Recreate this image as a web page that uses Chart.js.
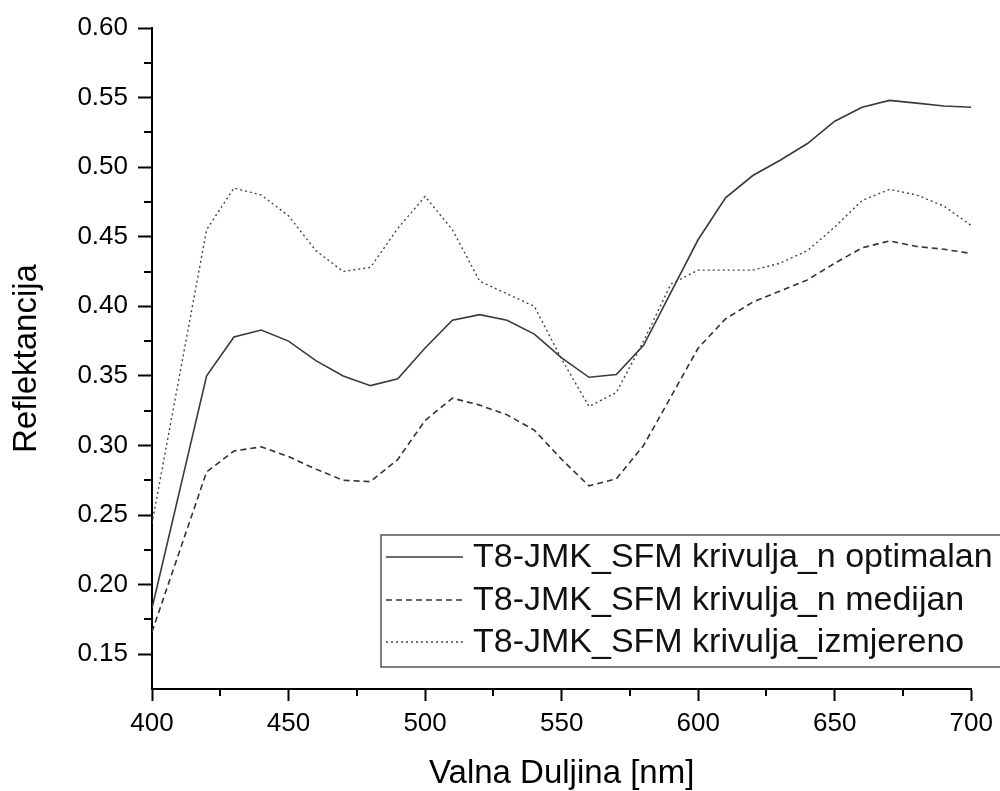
<!DOCTYPE html>
<html>
<head>
<meta charset="utf-8">
<title>Reflektancija</title>
<script src="https://cdn.jsdelivr.net/npm/chart.js@4/dist/chart.umd.min.js"></script>
<style>
    body { margin: 0; background: #fff; }
    #wrap { width: 1000px; height: 791px; }
</style>
</head>
<body>
<div id="wrap"><canvas id="reflChart"></canvas></div>
<script>
// valne duljine (nm)
const wavelengths = [400, 420, 430, 440, 450, 460, 470, 480, 490, 500, 510, 520, 530, 540, 550,
                     560, 570, 580, 590, 600, 610, 620, 630, 640, 650, 660, 670, 680, 690, 700];

const optimalan = [0.183, 0.350, 0.378, 0.383, 0.375, 0.361, 0.350, 0.343, 0.348, 0.370, 0.390, 0.394, 0.390, 0.380, 0.363,
                   0.349, 0.351, 0.372, 0.410, 0.448, 0.478, 0.494, 0.505, 0.517, 0.533, 0.543, 0.548, 0.546, 0.544, 0.543];

const medijan = [0.166, 0.281, 0.296, 0.299, 0.292, 0.283, 0.275, 0.274, 0.290, 0.318, 0.334, 0.329, 0.322, 0.311, 0.290,
                 0.271, 0.276, 0.300, 0.335, 0.370, 0.391, 0.403, 0.411, 0.419, 0.431, 0.442, 0.447, 0.443, 0.441, 0.438];

const izmjereno = [0.244, 0.455, 0.485, 0.480, 0.465, 0.440, 0.425, 0.428, 0.456, 0.479, 0.455, 0.418, 0.409, 0.400, 0.362,
                   0.328, 0.338, 0.375, 0.416, 0.426, 0.426, 0.426, 0.431, 0.440, 0.457, 0.476, 0.484, 0.480, 0.472, 0.458];

const seriesLabels = [
    'T8-JMK_SFM krivulja_n optimalan',
    'T8-JMK_SFM krivulja_n medijan',
    'T8-JMK_SFM krivulja_izmjereno'
];

const xTicks = [400, 450, 500, 550, 600, 650, 700];
const xMinorTicks = [425, 475, 525, 575, 625, 675];
const yTicks = [0.15, 0.20, 0.25, 0.30, 0.35, 0.40, 0.45, 0.50, 0.55, 0.60];
const yMinorTicks = [0.175, 0.225, 0.275, 0.325, 0.375, 0.425, 0.475, 0.525, 0.575];

function toPoints(values) {
    return wavelengths.map((w, i) => ({ x: w, y: values[i] }));
}

// minor ticks on both axes
const minorTicksPlugin = {
    id: 'minorTicks',
    afterDraw(chart) {
        const ctx = chart.ctx;
        const xs = chart.scales.x;
        const ys = chart.scales.y;
        const area = chart.chartArea;
        ctx.save();
        ctx.strokeStyle = '#000';
        ctx.lineWidth = 2;
        ctx.beginPath();
        xMinorTicks.forEach(v => {
            const px = Math.round(xs.getPixelForValue(v));
            ctx.moveTo(px, area.bottom);
            ctx.lineTo(px, area.bottom + 7);
        });
        yMinorTicks.forEach(v => {
            const py = Math.round(ys.getPixelForValue(v));
            ctx.moveTo(area.left, py);
            ctx.lineTo(area.left - 8, py);
        });
        ctx.stroke();
        ctx.restore();
    }
};

// legend box inside the plot (bottom right)
const boxLegendPlugin = {
    id: 'boxLegend',
    afterDraw(chart) {
        const ctx = chart.ctx;
        const left = 381, top = 535, bottom = 667;
        const rows = [557, 600, 642];
        ctx.save();
        ctx.fillStyle = '#fff';
        ctx.fillRect(left, top, 1010 - left, bottom - top);
        ctx.strokeStyle = '#555';
        ctx.lineWidth = 1.5;
        ctx.strokeRect(left, top, 1010 - left, bottom - top);

        chart.data.datasets.forEach((ds, i) => {
            ctx.strokeStyle = ds.borderColor;
            ctx.lineWidth = ds.borderWidth;
            ctx.setLineDash(ds.borderDash || []);
            ctx.beginPath();
            ctx.moveTo(386, rows[i]);
            ctx.lineTo(463, rows[i]);
            ctx.stroke();
            ctx.setLineDash([]);

            ctx.fillStyle = '#111';
            ctx.font = '34px "Liberation Sans", Arial, sans-serif';
            ctx.textBaseline = 'middle';
            ctx.fillText(ds.label, 473, rows[i] + 1);
        });
        ctx.restore();
    }
};

document.addEventListener('DOMContentLoaded', function() {
    const ctx = document.getElementById('reflChart').getContext('2d');
    new Chart(ctx, {
        type: 'line',
        data: {
            datasets: [{
                label: seriesLabels[0],
                data: toPoints(optimalan),
                borderColor: '#3a3a3a',
                borderWidth: 1.6,
                pointRadius: 0,
                tension: 0
            }, {
                label: seriesLabels[1],
                data: toPoints(medijan),
                borderColor: '#333',
                borderWidth: 1.6,
                borderDash: [6, 4],
                pointRadius: 0,
                tension: 0
            }, {
                label: seriesLabels[2],
                data: toPoints(izmjereno),
                borderColor: '#444',
                borderWidth: 1.4,
                borderDash: [2, 3],
                pointRadius: 0,
                tension: 0
            }]
        },
        options: {
            responsive: true,
            maintainAspectRatio: false,
            animation: false,
            layout: { padding: { top: 28, right: 28, left: 0, bottom: 0 } },
            plugins: {
                legend: { display: false },
                tooltip: { enabled: false }
            },
            scales: {
                x: {
                    type: 'linear',
                    min: 400,
                    max: 700,
                    afterBuildTicks: scale => { scale.ticks = xTicks.map(v => ({ value: v })); },
                    afterFit: scale => { scale.height = 102; },
                    ticks: {
                        color: '#000',
                        padding: 7,
                        maxRotation: 0,
                        font: { family: '"Liberation Sans", Arial, sans-serif', size: 26 },
                        callback: v => String(v)
                    },
                    grid: {
                        display: true,
                        drawOnChartArea: false,
                        drawTicks: true,
                        tickLength: 12,
                        tickWidth: 2,
                        tickColor: '#000'
                    },
                    border: { display: true, color: '#000', width: 2 },
                    title: {
                        display: true,
                        text: 'Valna Duljina [nm]',
                        color: '#000',
                        font: { family: '"Liberation Sans", Arial, sans-serif', size: 33, lineHeight: 1 },
                        padding: { top: 0, bottom: 1 }
                    }
                },
                y: {
                    type: 'linear',
                    min: 0.125,
                    max: 0.60,
                    afterBuildTicks: scale => { scale.ticks = yTicks.map(v => ({ value: v })); },
                    afterFit: scale => { scale.width = 152; },
                    ticks: {
                        color: '#000',
                        padding: 10,
                        font: { family: '"Liberation Sans", Arial, sans-serif', size: 26 },
                        callback: v => Number(v).toFixed(2)
                    },
                    grid: {
                        display: true,
                        drawOnChartArea: false,
                        drawTicks: true,
                        tickLength: 14,
                        tickWidth: 2,
                        tickColor: '#000'
                    },
                    border: { display: true, color: '#000', width: 2 },
                    title: {
                        display: true,
                        text: 'Reflektancija',
                        color: '#000',
                        font: { family: '"Liberation Sans", Arial, sans-serif', size: 33, lineHeight: 1 },
                        padding: { top: 10, bottom: 0 }
                    }
                }
            }
        },
        plugins: [minorTicksPlugin, boxLegendPlugin]
    });
});
</script>
</body>
</html>
